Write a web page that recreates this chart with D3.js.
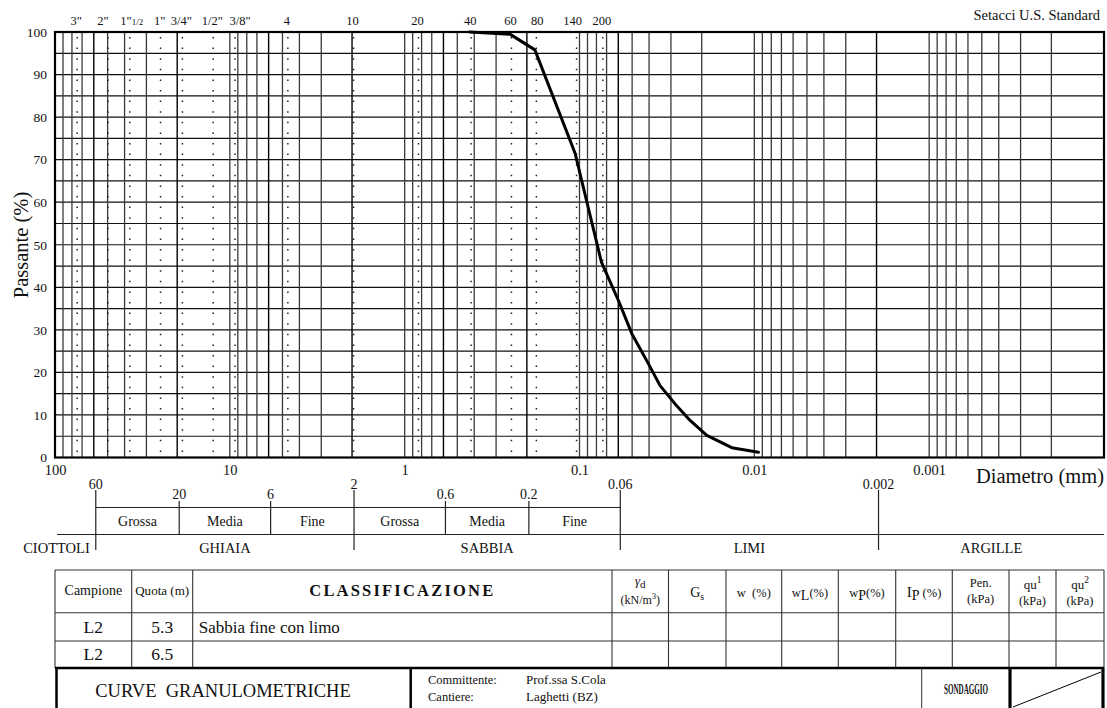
<!DOCTYPE html>
<html><head><meta charset="utf-8">
<script src="https://cdn.jsdelivr.net/npm/d3@7"></script>
<style>
body{margin:0;background:#fff}
svg{display:block}
text{font-family:"Liberation Serif","Times New Roman",serif;fill:#111}
</style>
</head><body>
<svg id="c" width="1107" height="708"></svg>
<script>
// ---------------- DATA ----------------
const diameters = [0.425, 0.25, 0.18, 0.106, 0.075, 0.0599, 0.0502, 0.0403, 0.0346, 0.0284, 0.0233, 0.0187, 0.01345, 0.00947];
const passing   = [100, 99.5, 95.8, 71.5, 46, 36.9, 29.1, 22, 16.9, 12.6, 8.7, 5.2, 2.3, 1.25];

const sieveSizes  = [76.2, 50.8, 38.1, 25.4, 19.05, 12.7, 9.525, 4.75, 2.0, 0.85, 0.425, 0.25, 0.18, 0.106, 0.075];
const sieveLabels = ['3"', '2"', '1"1/2', '1"', '3/4"', '1/2"', '3/8"', '4', '10', '20', '40', '60', '80', '140', '200'];

const yTickValues = [0, 10, 20, 30, 40, 50, 60, 70, 80, 90, 100];
const xTickValues = [100, 10, 1, 0.1, 0.01, 0.001];
const xTickLabels = ['100', '10', '1', '0.1', '0.01', '0.001'];

const mainBounds = [60, 2, 0.06, 0.002];
const mainBoundLabels = ['60', '2', '0.06', '0.002'];
const subBounds = [20, 6, 0.6, 0.2];
const subBoundLabels = ['20', '6', '0.6', '0.2'];
const subClassEdges = [60, 20, 6, 2, 0.6, 0.2, 0.06];
const subClassNames = ['Grossa', 'Media', 'Fine', 'Grossa', 'Media', 'Fine'];
const mainClassNames = ['CIOTTOLI', 'GHIAIA', 'SABBIA', 'LIMI', 'ARGILLE'];

const sampleIds = ['L2', 'L2'];
const sampleDepths = ['5.3', '6.5'];
const sampleClasses = ['Sabbia fine con limo', ''];

// ---------------- LAYOUT ----------------
const svg = d3.select('#c');
const L = 55, R = 1104, T = 32, B = 457.5;
const x = d3.scaleLog().domain([100, 0.0001]).range([L, R]);
const y = d3.scaleLinear().domain([0, 100]).range([B, T]);
const sameVal = (a, b) => Math.abs(Math.log10(a) - Math.log10(b)) < 1e-6;

// horizontal grid
const grid = svg.append('g');
grid.selectAll('line.h').data(d3.range(0, 101, 5)).join('line')
  .attr('x1', L).attr('x2', R).attr('y1', d => y(d)).attr('y2', d => y(d))
  .attr('stroke', '#111').attr('stroke-width', 1.2);

// vertical grid (log 1..9 per decade)
const allBounds = mainBounds.concat(subBounds);
grid.selectAll('line.v').data(x.ticks()).join('line')
  .attr('x1', d => x(d)).attr('x2', d => x(d)).attr('y1', T).attr('y2', B)
  .attr('stroke', d => allBounds.some(b => sameVal(b, d)) ? '#000' : '#3a3a3a')
  .attr('stroke-width', d => allBounds.some(b => sameVal(b, d)) ? 1.4 : 1.3);

// sieve dotted lines
grid.selectAll('line.s').data(sieveSizes).join('line')
  .attr('x1', d => x(d) + 1.5).attr('x2', d => x(d) + 1.5).attr('y1', T + 5).attr('y2', B)
  .attr('stroke', '#222').attr('stroke-width', 1.5).attr('stroke-dasharray', '1.5,9.1');

// frame
svg.append('rect').attr('x', L).attr('y', T).attr('width', R - L).attr('height', B - T)
  .attr('fill', 'none').attr('stroke', '#000').attr('stroke-width', 2.2);

// curve
const pts = diameters.map((d, i) => [d, passing[i]]);
svg.append('path').datum(pts)
  .attr('d', d3.line().x(d => x(d[0])).y(d => y(d[1])))
  .attr('fill', 'none').attr('stroke', '#000').attr('stroke-width', 3)
  .attr('stroke-linejoin', 'round').attr('stroke-linecap', 'round');

// y axis
const ya = svg.append('g').attr('transform', `translate(${L},0)`)
  .call(d3.axisLeft(y).tickValues(yTickValues).tickSize(0).tickPadding(8));
ya.select('.domain').remove();
ya.selectAll('text').style('font-family', '"Liberation Serif",serif').style('font-size', '13.5px').attr('fill', '#111');

// x axis
const xa = svg.append('g').attr('transform', `translate(0,${B})`)
  .call(d3.axisBottom(x).tickValues(xTickValues).tickFormat((d, i) => xTickLabels[i]).tickSize(0).tickPadding(7));
xa.select('.domain').remove();
xa.selectAll('text').style('font-family', '"Liberation Serif",serif').style('font-size', '14.5px').attr('fill', '#111');

// sieve labels (top)
const labelNudge = {'2"': -4, '1"1/2': 3, '3/8"': 6, '80': 2, '140': -3};
const sa = svg.append('g').attr('transform', `translate(0,${T})`)
  .call(d3.axisTop(x).tickValues(sieveSizes).tickFormat((d, i) => sieveLabels[i]).tickSize(0).tickPadding(7));
sa.select('.domain').remove();
sa.selectAll('text').style('font-family', '"Liberation Serif",serif').style('font-size', '12.5px').attr('fill', '#111')
  .attr('dx', function () { return labelNudge[this.textContent] || 0; })
  .each(function () {
    if (this.textContent === '1"1/2') {
      const t = d3.select(this); t.text('');
      t.append('tspan').text('1"');
      t.append('tspan').style('font-size', '9px').text('1/2');
    }
  });

svg.append('text').attr('x', 1100).attr('y', 20).attr('text-anchor', 'end')
  .style('font-size', '14.5px').text('Setacci U.S. Standard');

// axis titles
svg.append('text').attr('transform', 'translate(28,245) rotate(-90)').attr('text-anchor', 'middle')
  .style('font-size', '20.5px').text('Passante (%)');
svg.append('text').attr('x', 1104).attr('y', 483).attr('text-anchor', 'end')
  .style('font-size', '20.5px').text('Diametro (mm)');

// ---------------- CLASSIFICATION BAND ----------------
const bx = v => x(v) + 2;
const band = svg.append('g').attr('stroke', '#222').attr('stroke-width', 1.2);
band.selectAll('line.mb').data(mainBounds).join('line')
  .attr('x1', bx).attr('x2', bx).attr('y1', 490).attr('y2', 550);
band.selectAll('line.sb').data(subBounds).join('line')
  .attr('x1', bx).attr('x2', bx).attr('y1', 501).attr('y2', 534.5);
band.append('line').attr('x1', bx(60)).attr('x2', bx(0.06)).attr('y1', 507.5).attr('y2', 507.5);
band.append('line').attr('x1', 57).attr('x2', R).attr('y1', 534.5).attr('y2', 534.5);

const bt = svg.append('g').style('font-size', '14px').attr('text-anchor', 'middle');
bt.selectAll('text.mb').data(mainBounds).join('text')
  .attr('x', bx).attr('y', 488.5).text((d, i) => mainBoundLabels[i]);
bt.selectAll('text.sb').data(subBounds).join('text')
  .attr('x', bx).attr('y', 498.5).text((d, i) => subBoundLabels[i]);
bt.selectAll('text.sc').data(subClassNames).join('text')
  .attr('x', (d, i) => (bx(subClassEdges[i]) + bx(subClassEdges[i + 1])) / 2).attr('y', 525.5).text(d => d);
const mainEdges = [null, 60, 2, 0.06, 0.002, null];
const edgeX = v => v === null ? R : bx(v);
bt.selectAll('text.mc').data(mainClassNames).join('text')
  .attr('x', (d, i) => i === 0 ? bx(60) - 6 : (edgeX(mainEdges[i]) + edgeX(mainEdges[i + 1])) / 2)
  .attr('text-anchor', (d, i) => i === 0 ? 'end' : 'middle')
  .attr('y', 552.5).style('font-size', '14.5px').text(d => d);

// ---------------- TABLE ----------------
const colX = [55, 131.7, 192.7, 612, 668.5, 726, 781.7, 838.3, 895.7, 952.3, 1009, 1056, 1104];
const rowY = [570, 612.7, 641, 668];
const tb = svg.append('g').attr('stroke', '#333').attr('stroke-width', 1.1);
tb.selectAll('line.r').data(rowY).join('line')
  .attr('x1', colX[0]).attr('x2', R).attr('y1', d => d).attr('y2', d => d);
tb.selectAll('line.c').data(colX).join('line')
  .attr('x1', d => d).attr('x2', d => d).attr('y1', rowY[0]).attr('y2', rowY[3]);

const cx = i => (colX[i] + colX[i + 1]) / 2;
const tt = svg.append('g').attr('text-anchor', 'middle');
tt.append('text').attr('x', cx(0)).attr('y', 595).style('font-size', '14px').text('Campione');
tt.append('text').attr('x', cx(1)).attr('y', 595).style('font-size', '12.5px').attr('textLength', 54).attr('lengthAdjust', 'spacingAndGlyphs').text('Quota (m)');
tt.append('text').attr('x', cx(2)).attr('y', 596).style('font-size', '16.5px').style('font-weight', 'bold')
  .style('letter-spacing', '2.2px').text('CLASSIFICAZIONE');

function rich(g, xx, yy, parts, size) {
  const t = g.append('text').attr('x', xx).attr('y', yy).style('font-size', size + 'px');
  let prevDy = 0;
  parts.forEach(p => {
    const s = t.append('tspan').text(p.t);
    const dy = (p.dy || 0) - prevDy;
    if (dy) s.attr('dy', dy);
    prevDy = p.dy || 0;
    if (p.s) s.style('font-size', p.s + 'px');
    if (p.i) s.style('font-style', 'italic');
  });
  return t;
}
rich(tt, cx(3), 585, [{t: 'γ', i: 1, s: 13}, {t: 'd', s: 11, dy: 3}], 12);
rich(tt, cx(3), 604, [{t: '(kN/m'}, {t: '3', s: 8, dy: -5}, {t: ')'}], 12);
rich(tt, cx(4), 597, [{t: 'G'}, {t: 's', s: 10, dy: 3}], 14);
rich(tt, cx(5), 597, [{t: 'w\u00a0 (%)'}], 12.5);
rich(tt, cx(6), 597, [{t: 'w'}, {t: 'L', s: 14, dy: 3}, {t: '(%)'}], 12.5);
rich(tt, cx(7), 597, [{t: 'w'}, {t: 'P', s: 14, dy: 3}, {t: '(%)'}], 12.5);
rich(tt, cx(8), 597, [{t: 'I', s: 15}, {t: 'P', s: 14, dy: 3}, {t: ' (%)'}], 12.5);
rich(tt, cx(9), 587, [{t: 'Pen.'}], 12.5);
rich(tt, cx(9), 603, [{t: '(kPa)'}], 12.5);
rich(tt, cx(10), 589, [{t: 'qu'}, {t: '1', s: 9.5, dy: -6}], 13);
rich(tt, cx(10), 605, [{t: '(kPa)'}], 12.5);
rich(tt, cx(11), 589, [{t: 'qu'}, {t: '2', s: 9.5, dy: -6}], 13);
rich(tt, cx(11), 605, [{t: '(kPa)'}], 12.5);

sampleIds.forEach((s, i) => {
  const yy = (rowY[i + 1] + rowY[i + 2]) / 2 + 5.8;
  tt.append('text').attr('x', cx(0)).attr('y', yy).style('font-size', '17.5px').text(s);
  tt.append('text').attr('x', cx(1)).attr('y', yy).style('font-size', '17.5px').text(sampleDepths[i]);
  svg.append('text').attr('x', colX[2] + 6).attr('y', yy).style('font-size', '17px').text(sampleClasses[i]);
});

// ---------------- TITLE BLOCK ----------------
const tbk = svg.append('g').attr('stroke', '#000');
tbk.append('line').attr('x1', 55).attr('x2', R).attr('y1', 668).attr('y2', 668).attr('stroke-width', 2.5);
tbk.append('line').attr('x1', 56.5).attr('x2', 56.5).attr('y1', 668).attr('y2', 710).attr('stroke-width', 2.5);
tbk.append('line').attr('x1', 410.7).attr('x2', 410.7).attr('y1', 668).attr('y2', 710).attr('stroke-width', 2.5);
tbk.append('line').attr('x1', 921.7).attr('x2', 921.7).attr('y1', 668).attr('y2', 710).attr('stroke-width', 1).attr('stroke', '#333');
tbk.append('line').attr('x1', 1010).attr('x2', 1010).attr('y1', 668).attr('y2', 710).attr('stroke-width', 3.2);
tbk.append('line').attr('x1', 1103).attr('x2', 1103).attr('y1', 668).attr('y2', 710).attr('stroke-width', 3.2);
tbk.append('line').attr('x1', 1013).attr('x2', 1101).attr('y1', 707).attr('y2', 672).attr('stroke-width', 1);

svg.append('text').attr('x', 223).attr('y', 697).attr('text-anchor', 'middle').style('font-size', '18.5px')
  .text('CURVE\u00a0 GRANULOMETRICHE');
svg.append('text').attr('x', 428).attr('y', 684).style('font-size', '12.5px').text('Committente:');
svg.append('text').attr('x', 428).attr('y', 701).style('font-size', '12.5px').text('Cantiere:');
svg.append('text').attr('x', 526).attr('y', 684).style('font-size', '13px').text('Prof.ssa S.Cola');
svg.append('text').attr('x', 526).attr('y', 701).style('font-size', '13px').text('Laghetti (BZ)');
svg.append('text').attr('x', 966).attr('y', 694).attr('text-anchor', 'middle').style('font-size', '14px')
  .style('font-weight', 'bold').attr('textLength', 44).attr('lengthAdjust', 'spacingAndGlyphs').text('SONDAGGIO');
</script>
</body></html>
